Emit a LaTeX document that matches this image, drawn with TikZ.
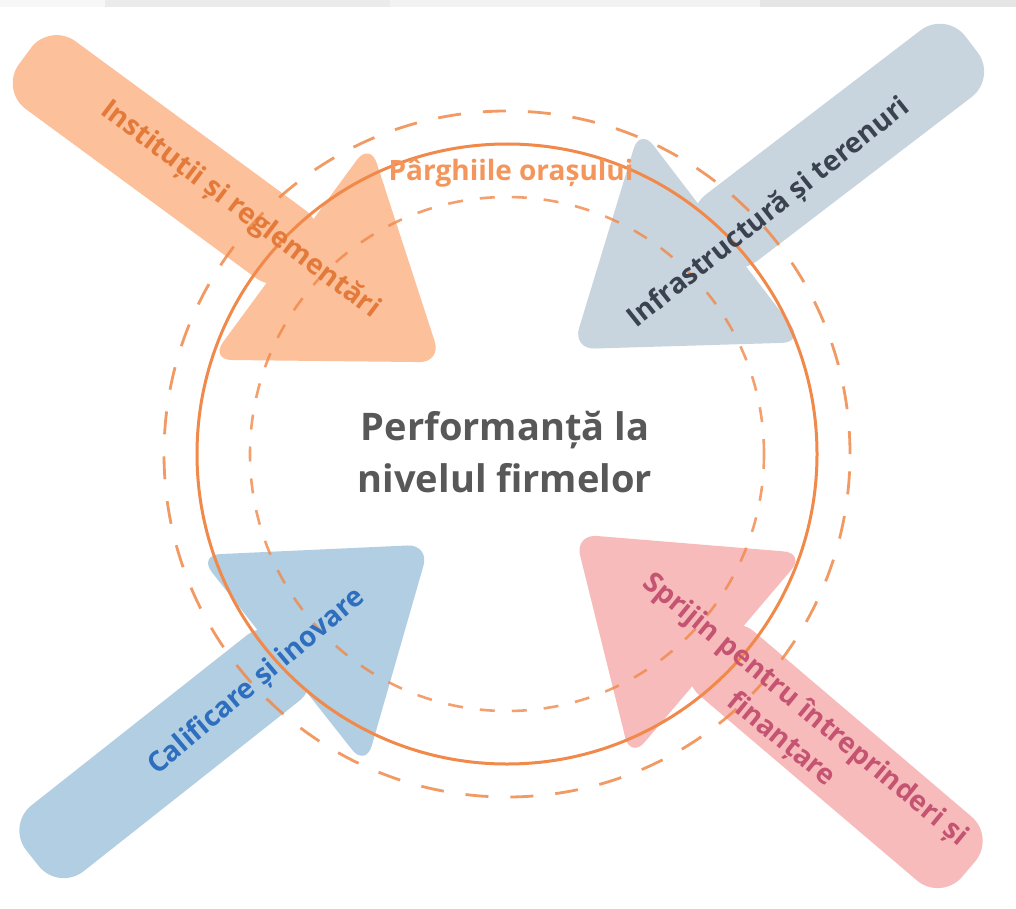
\documentclass[tikz,border=0pt]{standalone}
\usepackage{fontspec}
\setmainfont{Open Sans}
\definecolor{arrOrange}{RGB}{252,192,155}
\definecolor{arrGray}{RGB}{201,213,222}
\definecolor{arrBlue}{RGB}{178,206,226}
\definecolor{arrPink}{RGB}{248,187,187}
\definecolor{ringOrange}{RGB}{240,137,74}
\definecolor{txtOrange}{RGB}{228,122,58}
\definecolor{txtGray}{RGB}{58,66,80}
\definecolor{txtBlue}{RGB}{46,110,190}
\definecolor{txtPink}{RGB}{196,84,114}
\definecolor{txtCenter}{RGB}{88,88,88}
\definecolor{txtTop}{RGB}{244,150,92}
\newcommand\bigarrow[5]{%
  \begin{scope}[shift={(#2,#3)}, rotate=#4]
    \fill[#1, rounded corners=32pt] (-#5,-42) rectangle (20,42);
    \fill[#1, rounded corners=22pt] (0,-135) -- (188,0) -- (0,135) -- cycle;
  \end{scope}}
\tikzset{
  lab/.style={font=\fontsize{28}{38}\selectfont\bfseries, align=center, inner sep=0pt},
  ring/.style={draw=ringOrange, line width=3pt},
  outerdash/.style={draw=ringOrange, line width=2.8pt, opacity=0.85, dash pattern=on 23pt off 22pt},
  innerdash/.style={draw=ringOrange, line width=2.6pt, opacity=0.8, dash pattern=on 15pt off 17pt}
}
\begin{document}
\begin{tikzpicture}[x=1pt,y=-1pt]
\useasboundingbox (0,0) rectangle (1016,909);
\fill[white] (0,0) rectangle (1016,909);
% top band
\fill[black!3] (0,0) rectangle (105,7);
\fill[black!8] (105,0) rectangle (390,7);
\fill[black!5] (390,0) rectangle (760,7);
\fill[black!10] (760,0) rectangle (1016,7);
% arrows
\bigarrow{arrOrange}{290}{251}{-36.3}{329}
\bigarrow{arrGray}{722}{235}{217.4}{314}
\bigarrow{arrBlue}{282}{661}{38.3}{318}
\bigarrow{arrPink}{718}{656}{139.6}{329}
% rings
\coordinate (c) at (507,454);
\draw[outerdash] (c) circle[radius=343pt];
\draw[ring] (c) circle[radius=310pt];
\draw[innerdash] (c) circle[radius=257pt];
% texts
\node[lab, text=txtOrange, rotate=-37] (t1) at (240,210) {Instituții și reglementări};
\node[lab, text=txtGray, rotate=38.5] (t2) at (769,213) {Infrastructură și terenuri};
\node[lab, text=txtBlue, rotate=40] (t3) at (257,682) {Calificare și inovare};
\node[lab, text=txtPink, rotate=-39.4] (t4) at (793,725) {Sprijin pentru întreprinderi și\\finanțare};
\node[lab, text=txtTop] (top) at (511,173) {Pârghiile orașului};
\node[font=\fontsize{38}{52}\selectfont\bfseries, text=txtCenter, align=center] (center) at (505,452) {Performanță la\\nivelul firmelor};
\end{tikzpicture}
\end{document}
